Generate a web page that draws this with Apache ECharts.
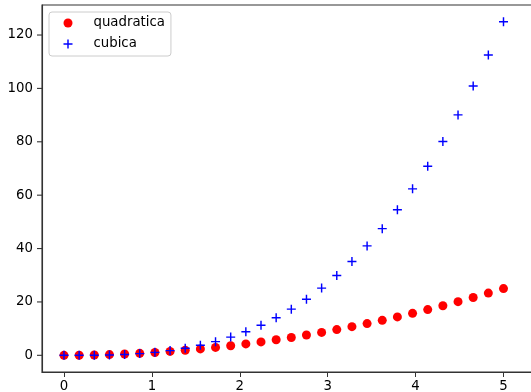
<!DOCTYPE html>
<html>
<head>
<meta charset="utf-8">
<script src="https://cdn.jsdelivr.net/npm/echarts@6/dist/echarts.min.js"></script>
<style>
  html, body { margin: 0; padding: 0; background: #fff; }
  #chart { width: 531px; height: 392px; }
</style>
</head>
<body>
<div id="chart"></div>
<script>
// Sample points x in [0, 5] (30 samples) with their squares and cubes
const xValues = [0, 0.1724, 0.3448, 0.5172, 0.6897, 0.8621, 1.0345, 1.2069, 1.3793, 1.5517,
  1.7241, 1.8966, 2.0690, 2.2414, 2.4138, 2.5862, 2.7586, 2.9310, 3.1034, 3.2759,
  3.4483, 3.6207, 3.7931, 3.9655, 4.1379, 4.3103, 4.4828, 4.6552, 4.8276, 5];
const quadratica = [0, 0.03, 0.12, 0.27, 0.48, 0.74, 1.07, 1.46, 1.90, 2.41,
  2.97, 3.60, 4.28, 5.02, 5.83, 6.69, 7.61, 8.59, 9.63, 10.73,
  11.89, 13.11, 14.39, 15.73, 17.12, 18.58, 20.10, 21.67, 23.31, 25];
const cubica = [0, 0.01, 0.04, 0.14, 0.33, 0.64, 1.11, 1.76, 2.62, 3.74,
  5.13, 6.82, 8.86, 11.26, 14.06, 17.30, 20.99, 25.18, 29.89, 35.15,
  41.00, 47.46, 54.57, 62.36, 70.85, 80.08, 90.08, 100.88, 112.51, 125];
const seriesNames = ['quadratica', 'cubica'];
const xTicks = [0, 1, 2, 3, 4, 5];
const yTicks = [0, 20, 40, 60, 80, 100, 120];

const FONT = 'DejaVu Sans';
const INK = '#333333';
const TICK_LEN = 5;
const X_MIN = -0.25;
const PLUS = 'path://M-0.16,-1H0.16V-0.16H1V0.16H0.16V1H-0.16V0.16H-1V-0.16H-0.16Z';

const chart = echarts.init(document.getElementById('chart'), null, { renderer: 'canvas' });

chart.setOption({
  animation: false,
  backgroundColor: '#ffffff',
  textStyle: { fontFamily: FONT },
  grid: {
    left: 42, top: 5, right: -3, bottom: 20,
    outerBoundsMode: 'none',
    containLabel: false,
    show: true, borderColor: INK, borderWidth: 1.1, backgroundColor: 'transparent'
  },
  legend: {
    left: 49, top: 12,
    orient: 'vertical',
    padding: [4, 6, 5, 14.5],
    itemGap: 7,
    itemWidth: 9, itemHeight: 9,
    backgroundColor: 'rgba(255,255,255,0.8)',
    borderColor: '#cccccc', borderWidth: 1, borderRadius: 3,
    textStyle: { fontFamily: FONT, fontSize: 13.3, color: '#000', lineHeight: 14, padding: [0, 0, 0, 16] },
    data: [
      { name: seriesNames[0], icon: 'circle', itemStyle: { color: '#ff0000' } },
      { name: seriesNames[1], icon: PLUS, itemStyle: { color: '#0000ff' } }
    ]
  },
  xAxis: {
    type: 'value',
    position: 'bottom',
    min: X_MIN, max: 5.347,
    axisLine: { show: true, onZero: false, lineStyle: { color: INK, width: 1.1 } },
    splitLine: { show: false },
    axisTick: { show: true, length: TICK_LEN, lineStyle: { color: INK, width: 1 }, customValues: xTicks },
    axisLabel: { margin: 8, fontFamily: FONT, fontSize: 13.3, color: '#000', customValues: xTicks }
  },
  yAxis: {
    type: 'value',
    position: 'left',
    min: -6.25, max: 131.25,
    axisLine: { show: true, onZero: false, lineStyle: { color: INK, width: 1.1 } },
    splitLine: { show: false },
    axisTick: { show: false },
    axisLabel: { margin: 9, fontFamily: FONT, fontSize: 13.3, color: '#000', customValues: yTicks }
  },
  series: [
    {
      name: seriesNames[0],
      type: 'scatter',
      symbol: 'circle',
      symbolSize: 9,
      itemStyle: { color: '#ff0000', opacity: 1 },
      data: xValues.map((x, i) => [x, quadratica[i]])
    },
    {
      name: seriesNames[1],
      type: 'scatter',
      symbol: PLUS,
      symbolSize: 9,
      itemStyle: { color: '#0000ff', opacity: 1 },
      data: xValues.map((x, i) => [x, cubica[i]])
    },
    {
      // outward tick marks along the left axis
      name: 'yTickMarks',
      type: 'scatter',
      silent: true,
      clip: false,
      z: 10,
      symbol: 'rect',
      symbolSize: [TICK_LEN, 1.1],
      symbolOffset: [-TICK_LEN / 2, 0],
      itemStyle: { color: INK, opacity: 1 },
      data: yTicks.map(v => [X_MIN, v])
    }
  ]
});
</script>
</body>
</html>
